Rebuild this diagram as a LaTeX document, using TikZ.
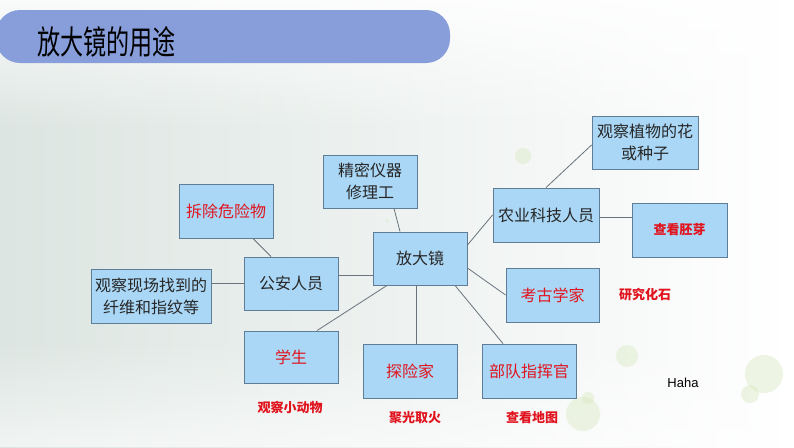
\documentclass[tikz,border=0pt]{standalone}
\usepackage{fontspec}
\setmainfont{Liberation Sans}
\newfontfamily\cjk{Noto Sans CJK SC}
\newfontfamily\cjktitle[FakeStretch=0.7]{Noto Sans CJK SC}
\usetikzlibrary{calc,fadings}
\definecolor{titlebar}{RGB}{135,158,218}
\definecolor{boxfill}{RGB}{170,215,245}
\definecolor{boxline}{RGB}{95,125,150}
\definecolor{redtxt}{RGB}{225,20,30}
\definecolor{bgL}{RGB}{220,229,225}
\definecolor{bgM}{RGB}{244,247,230}
\definecolor{bubble}{RGB}{214,230,188}
\definecolor{conn}{RGB}{105,115,125}
\tikzset{
  box/.style={draw=boxline, line width=0.9pt, fill=boxfill, minimum width=94pt, minimum height=53pt,
    inner sep=0pt, align=center, font=\cjk\fontsize{16}{22}\selectfont, text=black!85},
  redbox/.style={box, text=redtxt},
  lbl/.style={inner sep=0pt, font=\cjk\bfseries\fontsize{13}{16}\selectfont, text=redtxt},
  link/.style={draw=conn, line width=0.8pt},
  bub/.style={fill=bubble, opacity=0.4, draw=none}
}
\begin{document}
\begin{tikzpicture}[x=1pt,y=-1pt]
\useasboundingbox (0,0) rectangle (794,447);
% background
\shade[left color=bgL, middle color=bgM, right color=white] (0,0) rectangle (794,447);
\fill[white, opacity=0.85, path fading=south] (0,0) rectangle (794,130);
\fill[white, opacity=0.6, path fading=north] (0,340) rectangle (794,447);
% bubbles
\fill[bub] (523,156) circle (8);
\fill[bub] (627,356) circle (11);
\fill[bub] (764,374) circle (19);
\fill[bub] (750,394) circle (9);
\fill[bub] (583,414) circle (17);
\fill[bub] (588,398) circle (6);
\fill[bub] (387,221) circle (1.8);
% title bar
\fill[titlebar, rounded corners=24pt] (-4,10) rectangle (450,63);
\node[anchor=west, inner sep=0pt, font=\cjktitle\fontsize{33}{36}\selectfont, text=black] (title) at (37,42) {放大镜的用途};
% boxes
\node[box] (jm) at (370,181.5) {精密仪器\\修理工};
\node[box] (fdj) at (420,258.5) {放大镜};
\node[redbox, minimum height=54pt] (cc) at (226,211) {拆除危险物};
\node[box] (ga) at (291,283.5) {公安人员};
\node[box, minimum width=120pt, minimum height=54pt] (gc) at (151,296) {观察现场找到的\\纤维和指纹等};
\node[redbox, minimum height=52pt] (xs) at (291,357) {学生};
\node[redbox, minimum height=54pt] (tx) at (410,371) {探险家};
\node[redbox, minimum height=54pt] (bd) at (529,371) {部队指挥官};
\node[redbox, minimum width=93pt, minimum height=54pt] (kg) at (552.5,295) {考古学家};
\node[box, minimum width=106pt, minimum height=54pt] (ny) at (546,215) {农业科技人员};
\node[box, minimum width=106pt] (gz) at (645,142.5) {观察植物的花\\或种子};
\node[box, minimum width=95pt, minimum height=54pt, font=\cjk\bfseries\fontsize{13}{16}\selectfont, text=redtxt] (ck) at (679.5,230) {查看胚芽};
% labels
\node[lbl] (yj) at (645,295) {研究化石};
\node[lbl] (xdw) at (290,407) {观察小动物};
\node[lbl] (jg) at (415,418) {聚光取火};
\node[lbl] (dt) at (532,418) {查看地图};
\node[inner sep=0pt, font=\fontsize{13}{15}\selectfont, text=black] (haha) at (683,383) {Haha};
% connectors
\draw[link] ([xshift=24pt]jm.south) -- ([xshift=-20pt]fdj.north);
\draw[link] ([xshift=27pt]cc.south) -- ([xshift=-20pt]ga.north);
\draw[link] (ga.west) -- (ga.west -| gc.east);
\draw[link] ([yshift=-16.5pt]fdj.west) -- ([yshift=-16.5pt]fdj.west -| ga.east);
\draw[link] ([xshift=26pt]xs.north) -- ([xshift=-33pt]fdj.south);
\draw[link] ([xshift=-4pt]fdj.south) -- ([xshift=-4pt]fdj.south |- tx.north);
\draw[link] ([xshift=-26pt]bd.north) -- ([xshift=35pt]fdj.south);
\draw[link] ([yshift=-9.5pt]fdj.east) -- (kg.west);
\draw[link] ([yshift=13.5pt]fdj.east) -- (ny.west);
\draw[link] (ny.north) -- ([yshift=-2.5pt]gz.west);
\draw[link] ([yshift=-2pt]ny.east) -- ([yshift=-2pt]ny.east -| ck.west);
\end{tikzpicture}
\end{document}
